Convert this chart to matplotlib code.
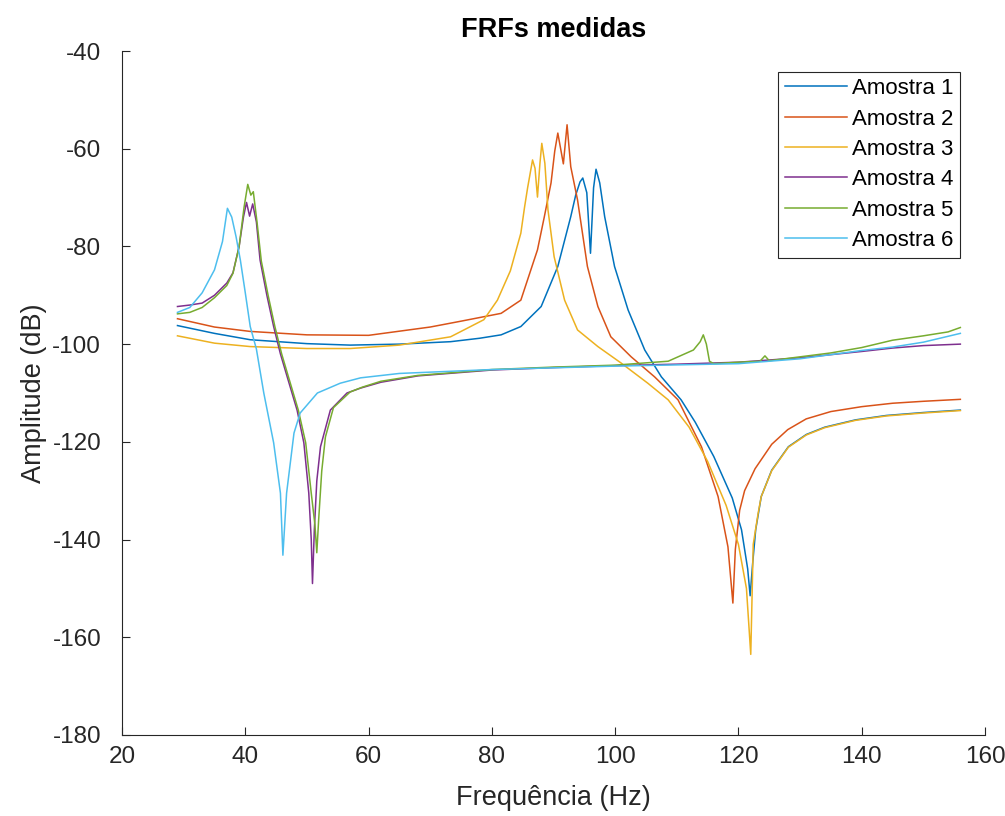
import matplotlib
matplotlib.use("Agg")
import matplotlib.pyplot as plt
import numpy as np

plt.rcParams['font.family'] = ['Liberation Sans', 'DejaVu Sans']
plt.rcParams['axes.unicode_minus'] = False

# FRF amplitude readings (Hz, dB) for each specimen
freq_1 = [29, 35, 40.8, 50, 57, 65, 73.3, 78, 81.5, 84.7, 88, 90.7, 92.8, 93.6, 94.3, 94.75, 95.4,
          96.0, 96.5, 96.9, 97.5, 98.3, 99.9, 102.1, 104.8, 107.5, 110.7, 113, 116, 119,
          120.5, 121.5, 121.9, 122.3, 122.8, 123.7, 125.4, 128.1, 131, 134, 139, 144, 150, 156]
amp_1 = [-96.2, -97.8, -99.1, -99.9, -100.2, -100, -99.5, -98.8, -98.1, -96.4, -92.3, -84.1,
         -73.9, -69.5, -66.8, -66, -69, -81.4, -68, -64.2, -67, -73.9, -84.1, -93, -101.2, -106.7,
         -111.4, -116, -123, -131.5, -138, -146, -151.5, -145, -138, -131.2, -125.8, -121, -118.5,
         -117, -115.5, -114.6, -114, -113.5]

freq_2 = [29, 35, 40.8, 50, 60, 70, 75, 81.5, 84.7, 87.4, 88.5, 89.6, 90.2, 90.7, 91.6, 92.2,
          92.8, 93.9, 95.5, 97.2, 99.3, 102.6, 106.4, 110.2, 114, 116.7, 118.3, 119.1, 119.5,
          120.2, 121, 122.7, 125.4, 128, 131, 135, 140, 145, 150, 156]
amp_2 = [-94.8, -96.5, -97.4, -98.1, -98.2, -96.5, -95.3, -93.7, -91, -80.7, -74, -67, -60.5,
         -56.8, -63.1, -55.1, -63.7, -70.5, -84.1, -92.3, -98.5, -102.6, -106.7, -111.4, -121,
         -131.2, -141.5, -153, -142, -134, -130, -125.5, -120.5, -117.5, -115.3, -113.8, -112.8,
         -112.1, -111.7, -111.3]

freq_3 = [29, 35, 40.8, 50, 57, 65, 73.3, 78.7, 80.9, 83, 84.7, 85.3, 85.8, 86.6, 87.0, 87.4,
          87.8, 88.1, 88.6, 89.1, 90.1, 91.8, 93.9, 97.2, 101, 105.3, 108.6, 112, 115, 118, 120,
          121.3, 122.0, 122.4, 123.2, 123.7, 125.4, 128.1, 131, 134, 139, 144, 150, 156]
amp_3 = [-98.3, -99.8, -100.5, -100.9, -100.9, -100.2, -98.5, -95, -91, -85, -77.3, -72, -68,
         -62.3, -64, -69.9, -63, -58.9, -63, -72.5, -82.1, -91, -97.1, -100.5, -103.9, -108,
         -111.4, -117, -124, -133, -141, -150, -163.5, -141, -134.6, -131.2, -125.9, -121.1,
         -118.6, -117.1, -115.6, -114.7, -114.1, -113.6]

freq_4 = [29, 31, 33, 35, 37, 38, 39, 39.7, 40.2, 40.7, 41.2, 41.8, 42.4, 43.5, 44.6, 45.7,
          46.8, 48.4, 49.5, 50.3, 50.7, 50.9, 51.2, 51.6, 52.2, 53.8, 56.5, 58.7, 62, 68, 80,
          90, 100, 110, 120, 130, 140, 145, 150, 156]
amp_4 = [-92.3, -92.0, -91.6, -90, -87.5, -85.4, -80, -74, -71, -73.8, -71.3, -75, -82.8, -90,
         -96.4, -102, -106.7, -113.5, -120.2, -130.5, -140, -149, -138, -128, -121, -113.5, -110,
         -109, -107.8, -106.5, -105.3, -104.8, -104.4, -104.1, -103.7, -102.8, -101.5, -100.8,
         -100.3, -100]

freq_5 = [29, 31, 33, 35, 37, 38, 39, 39.8, 40.4, 40.9, 41.3, 41.9, 42.6, 43.7, 44.8, 45.9,
          47, 48.6, 49.8, 50.7, 51.3, 51.6, 51.9, 52.4, 53, 54.3, 57, 59, 62, 68, 80, 90, 100,
          108.6, 112.7, 113.8, 114.3, 114.8, 115.3, 116, 120, 123.5, 124.3, 125, 130, 135, 140,
          145, 150, 154, 156]
amp_5 = [-93.8, -93.5, -92.5, -90.5, -88, -85.5, -80, -72, -67.3, -69.5, -68.8, -75, -83, -90,
         -96.4, -102, -106.7, -113.5, -120.2, -130.5, -137, -142.7, -136, -126, -119, -113,
         -109.8, -108.8, -107.6, -106.4, -105.2, -104.7, -104.3, -103.5, -101.2, -99.5, -98.1,
         -100, -103.5, -104, -103.7, -103.5, -102.4, -103.4, -102.6, -101.8, -100.7, -99.2,
         -98.3, -97.5, -96.6]

freq_6 = [29, 31, 33, 35, 36.3, 37.1, 37.8, 38.5, 39.2, 40, 40.8, 41.8, 43.0, 44.6, 45.7, 46.1,
          46.7, 47.9, 48.9, 51.7, 55.4, 58.7, 65, 80, 100, 120, 130, 140, 145, 150, 156]
amp_6 = [-93.5, -92.5, -89.5, -84.8, -79, -72.2, -74, -78, -82.8, -89.5, -96.4, -101, -110,
         -120.2, -130.5, -143.2, -130.5, -118.2, -114.1, -110, -108, -106.9, -106, -105.2,
         -104.5, -104, -103, -101.3, -100.6, -99.6, -97.8]

labels = ['Amostra 1', 'Amostra 2', 'Amostra 3', 'Amostra 4', 'Amostra 5', 'Amostra 6']
colors = ['#0072BD', '#D95319', '#EDB120', '#7E2F8E', '#77AC30', '#4DBEEE']

fig = plt.figure(figsize=[10.05, 8.16], dpi=100)
ax = fig.add_axes([0.1214, 0.0993, 0.8587, 0.8382])

series = [(freq_1, amp_1), (freq_2, amp_2), (freq_3, amp_3),
          (freq_4, amp_4), (freq_5, amp_5), (freq_6, amp_6)]
for (f, a), lab, c in zip(series, labels, colors):
    ax.plot(f, a, color=c, lw=1.1, label=lab)

ax.set_xlim(20, 160)
ax.set_ylim(-180, -40)
ax.set_xticks(np.arange(20, 161, 20))
ax.set_yticks(np.arange(-180, -39, 20))
ax.spines['top'].set_visible(False)
ax.spines['right'].set_visible(False)
ax.spines['left'].set_color('#262626')
ax.spines['bottom'].set_color('#262626')
ax.tick_params(direction='in', length=6, labelsize=17.5, colors='#262626')
ax.tick_params(axis='x', pad=8)
ax.tick_params(axis='y', pad=15)

ax.set_title('FRFs medidas', fontsize=19.5, fontweight='bold', pad=10)
ax.set_xlabel('Frequência (Hz)', fontsize=19.5, color='#262626', labelpad=12)
ax.set_ylabel('Amplitude (dB)', fontsize=19.5, color='#262626', labelpad=4)

leg = ax.legend(loc='upper right', bbox_to_anchor=(0.971, 0.97), fontsize=16,
                handlelength=2.8, labelspacing=0.42, borderpad=0.3, handletextpad=0.2,
                borderaxespad=0, fancybox=False, framealpha=1, edgecolor='#262626')
leg.get_frame().set_linewidth(0.8)

fig.savefig('out.png', dpi=100)
